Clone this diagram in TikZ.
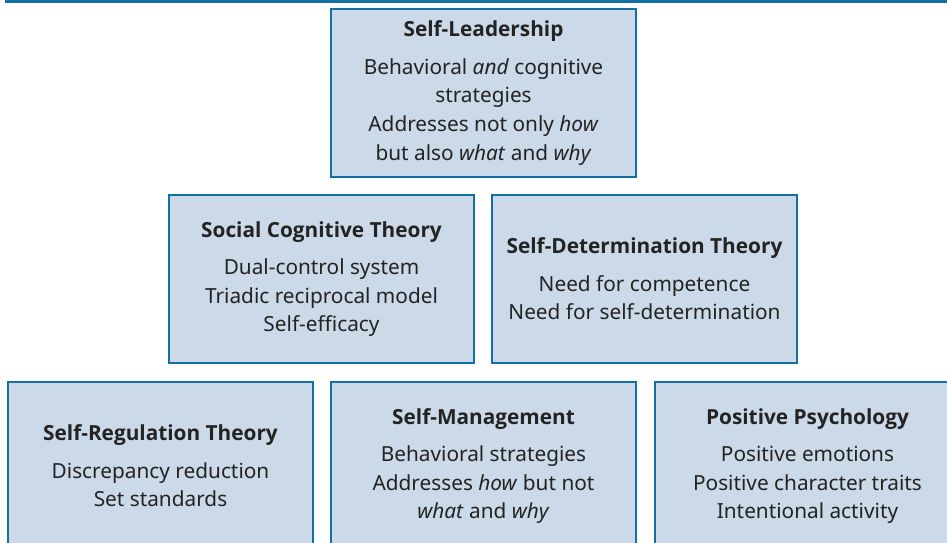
\documentclass[tikz,border=0pt]{standalone}
\usepackage{fontspec}
\setmainfont{Noto Sans}
\newfontfamily\headfont{Open Sans}
\definecolor{framecol}{RGB}{18,112,162}
\definecolor{boxfill}{RGB}{203,217,232}
\definecolor{textcol}{RGB}{35,35,35}
\newcommand{\boxhead}[1]{{\headfont\bfseries #1}}
\begin{document}
\begin{tikzpicture}[x=1pt,y=-1pt,
		theory/.style={draw=framecol,line width=2pt,fill=boxfill,text=textcol,minimum width=305pt,minimum height=168pt,
			align=center,anchor=north west,inner sep=0pt,font=\fontsize{20.8}{28.7}\selectfont}]
				\useasboundingbox (0,0) rectangle (947,543);
				\draw[framecol,line width=3pt] (5,1.5) -- (947,1.5);
				\node[theory] (lead) at (330,8) {\boxhead{Self-Leadership}\\[8.5pt] Behavioral \emph{and} cognitive\\ strategies\\ Addresses not only \emph{how}\\ but also \emph{what} and \emph{why}};
				\node[theory] (social) at (168,194) {\boxhead{Social Cognitive Theory}\\[8.5pt] Dual-control system\\ Triadic reciprocal model\\ Self-efficacy};
				\node[theory] (determ) at (491,194) {\boxhead{Self-Determination Theory}\\[8.5pt] Need for competence\\ Need for self-determination};
				\node[theory] (regul) at (7,381) {\boxhead{Self-Regulation Theory}\\[8.5pt] Discrepancy reduction\\ Set standards};
				\node[theory] (manage) at (330,381) {\boxhead{Self-Management}\\[8.5pt] Behavioral strategies\\ Addresses \emph{how} but not\\ \emph{what} and \emph{why}};
				\node[theory] (posit) at (654,381) {\boxhead{Positive Psychology}\\[8.5pt] Positive emotions\\ Positive character traits\\ Intentional activity};
			\end{tikzpicture}
\end{document}
